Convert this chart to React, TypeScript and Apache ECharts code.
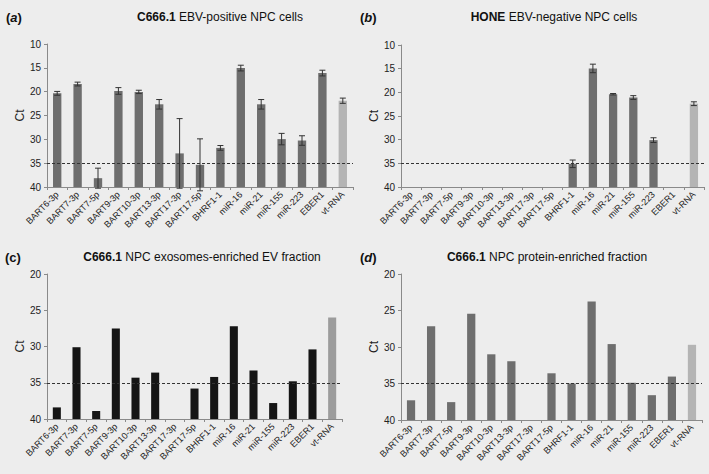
import React, { useEffect, useRef } from "react";
import * as echarts from "echarts";

const categories = [
  "BART6-3p", "BART7-3p", "BART7-5p", "BART9-3p", "BART10-3p", "BART13-3p",
  "BART17-3p", "BART17-5p", "BHRF1-1", "miR-16", "miR-21", "miR-155",
  "miR-223", "EBER1", "vt-RNA",
];

// Ct values (null = not detected)
const ctA = [20.35, 18.4, 38.15, 19.85, 20.05, 22.65, 32.95, 35.35, 31.8, 15.05, 22.65, 29.95, 30.25, 16.1, 21.9];
const errA = [0.4, 0.4, 2.1, 0.7, 0.35, 1.0, 7.3, 5.45, 0.5, 0.6, 1.0, 1.2, 1.0, 0.6, 0.55];

const ctB = [null, null, null, null, null, null, null, null, 35.1, 14.95, 20.4, 21.1, 30.1, null, 22.4];
const errB = [null, null, null, null, null, null, null, null, 0.8, 0.9, 0.15, 0.4, 0.5, null, 0.4];

const ctC = [38.4, 30.1, 38.9, 27.5, 34.3, 33.6, null, 35.8, 34.2, 27.2, 33.3, 37.8, 34.8, 30.4, 26.0];
const ctD = [37.3, 27.15, 37.55, 25.45, 31.0, 31.95, null, 33.6, 35.0, 23.75, 29.6, 34.9, 36.6, 34.05, 29.7];

const threshold = 35;
const baseCt = 40;

const FONT = "Liberation Sans, Arial, sans-serif";

export default function App() {
  const ref = useRef<HTMLDivElement>(null);
  useEffect(() => {
    document.body.style.margin = "0";
    const chart = echarts.init(ref.current!, null, { renderer: "svg" });

    const grids = [
      { left: 47, top: 44, width: 306, height: 143 },
      { left: 401, top: 45, width: 303, height: 142 },
      { left: 47, top: 274, width: 295, height: 145 },
      { left: 401, top: 274, width: 301, height: 146 },
    ];
    const topCt = [10, 10, 20, 20];

    const xAxes = grids.map((_, i) => ({
      type: "category",
      gridIndex: i,
      data: categories,
      axisLine: { show: true, lineStyle: { color: "#8a8a8a", width: 1 } },
      axisTick: { show: true, length: 3, lineStyle: { color: "#8a8a8a" } },
      axisLabel: {
        interval: 0,
        rotate: 45,
        fontSize: 9,
        fontFamily: FONT,
        color: "#222",
        margin: 6,
      },
    }));

    const yAxes = grids.map((_, i) => ({
      type: "value",
      gridIndex: i,
      min: 0,
      max: baseCt - topCt[i],
      interval: 5,
      name: "Ct",
      nameLocation: "middle",
      nameGap: 21,
      nameRotate: 90,
      nameTextStyle: { fontSize: 12, fontFamily: FONT, color: "#222" },
      splitLine: { show: false },
      axisLine: { show: true, lineStyle: { color: "#8a8a8a", width: 1 } },
      axisTick: { show: true, length: 3, lineStyle: { color: "#8a8a8a" } },
      axisLabel: {
        fontSize: 10,
        fontFamily: FONT,
        color: "#222",
        margin: 6,
        formatter: (v: number) => String(baseCt - v),
      },
    }));

    const dark = "#6e6e6e";
    const light = "#b4b4b4";
    const black = "#151515";
    const mid = "#9c9c9c";

    const toBar = (vals: (number | null)[], c1: string, c2: string) =>
      vals.map((v, i) =>
        v == null
          ? null
          : { value: baseCt - v, itemStyle: { color: i === vals.length - 1 ? c2 : c1 } }
      );

    const toErr = (vals: (number | null)[], errs: (number | null)[]) =>
      vals
        .map((v, i) =>
          v == null || errs[i] == null ? null : [i, baseCt - (v + (errs[i] as number)), baseCt - (v - (errs[i] as number))]
        )
        .filter((d) => d != null);

    const markLine = {
      silent: true,
      symbol: "none",
      label: { show: false },
      lineStyle: { color: "#333", type: [3, 2], width: 1 },
      data: [{ yAxis: baseCt - threshold }],
    };

    const barSeries = (idx: number, data: any[]) => ({
      type: "bar",
      xAxisIndex: idx,
      yAxisIndex: idx,
      data,
      barWidth: "41%",
      markLine,
      z: 2,
    });

    const errSeries = (idx: number, data: any[]) => ({
      type: "custom",
      xAxisIndex: idx,
      yAxisIndex: idx,
      data,
      z: 5,
      renderItem: (params: any, api: any) => {
        const x = api.value(0);
        const lo = api.coord([x, api.value(1)]);
        const hi = api.coord([x, api.value(2)]);
        const cx = lo[0];
        const w = 3;
        const style = { stroke: "#333", lineWidth: 1 };
        return {
          type: "group",
          children: [
            { type: "line", shape: { x1: cx, y1: lo[1], x2: cx, y2: hi[1] }, style },
            { type: "line", shape: { x1: cx - w, y1: lo[1], x2: cx + w, y2: lo[1] }, style },
            { type: "line", shape: { x1: cx - w, y1: hi[1], x2: cx + w, y2: hi[1] }, style },
          ],
        };
      },
    });

    const panelTitle = (x: number, y: number, bold: string, rest: string) => ({
      type: "text",
      x,
      y,
      style: {
        text: `{b|${bold}} ${rest}`,
        align: "center",
        verticalAlign: "middle",
        fontSize: 12,
        fontFamily: FONT,
        fill: "#111",
        rich: {
          b: { fontWeight: "bold", fontSize: 12, fontFamily: FONT, fill: "#111" },
        },
      },
    });

    const panelTag = (x: number, y: number, letter: string, italic: boolean) => ({
      type: "text",
      x,
      y,
      style: {
        text: `(${"{l|" + letter + "}"})`,
        verticalAlign: "middle",
        fontSize: 13,
        fontWeight: "bold",
        fontFamily: FONT,
        fill: "#111",
        rich: {
          l: {
            fontSize: 13,
            fontWeight: "bold",
            fontStyle: italic ? "italic" : "normal",
            fontFamily: FONT,
            fill: "#111",
          },
        },
      },
    });

    chart.setOption({
      animation: false,
      backgroundColor: "#ededed",
      grid: grids,
      xAxis: xAxes,
      yAxis: yAxes,
      graphic: [
        panelTag(6, 17, "a", true),
        panelTag(360, 17, "b", true),
        panelTag(5, 257, "c", false),
        panelTag(360, 257, "d", true),
        panelTitle(220, 17, "C666.1", "EBV-positive NPC cells"),
        panelTitle(554, 17, "HONE", "EBV-negative NPC cells"),
        panelTitle(202, 257, "C666.1", "NPC exosomes-enriched EV fraction"),
        panelTitle(547, 257, "C666.1", "NPC protein-enriched fraction"),
      ],
      series: [
        barSeries(0, toBar(ctA, dark, light)),
        errSeries(0, toErr(ctA, errA)),
        barSeries(1, toBar(ctB, dark, light)),
        errSeries(1, toErr(ctB, errB)),
        barSeries(2, toBar(ctC, black, mid)),
        barSeries(3, toBar(ctD, dark, light)),
      ],
    });
    return () => chart.dispose();
  }, []);
  return <div ref={ref} style={{ width: 709, height: 474 }} />;
}
